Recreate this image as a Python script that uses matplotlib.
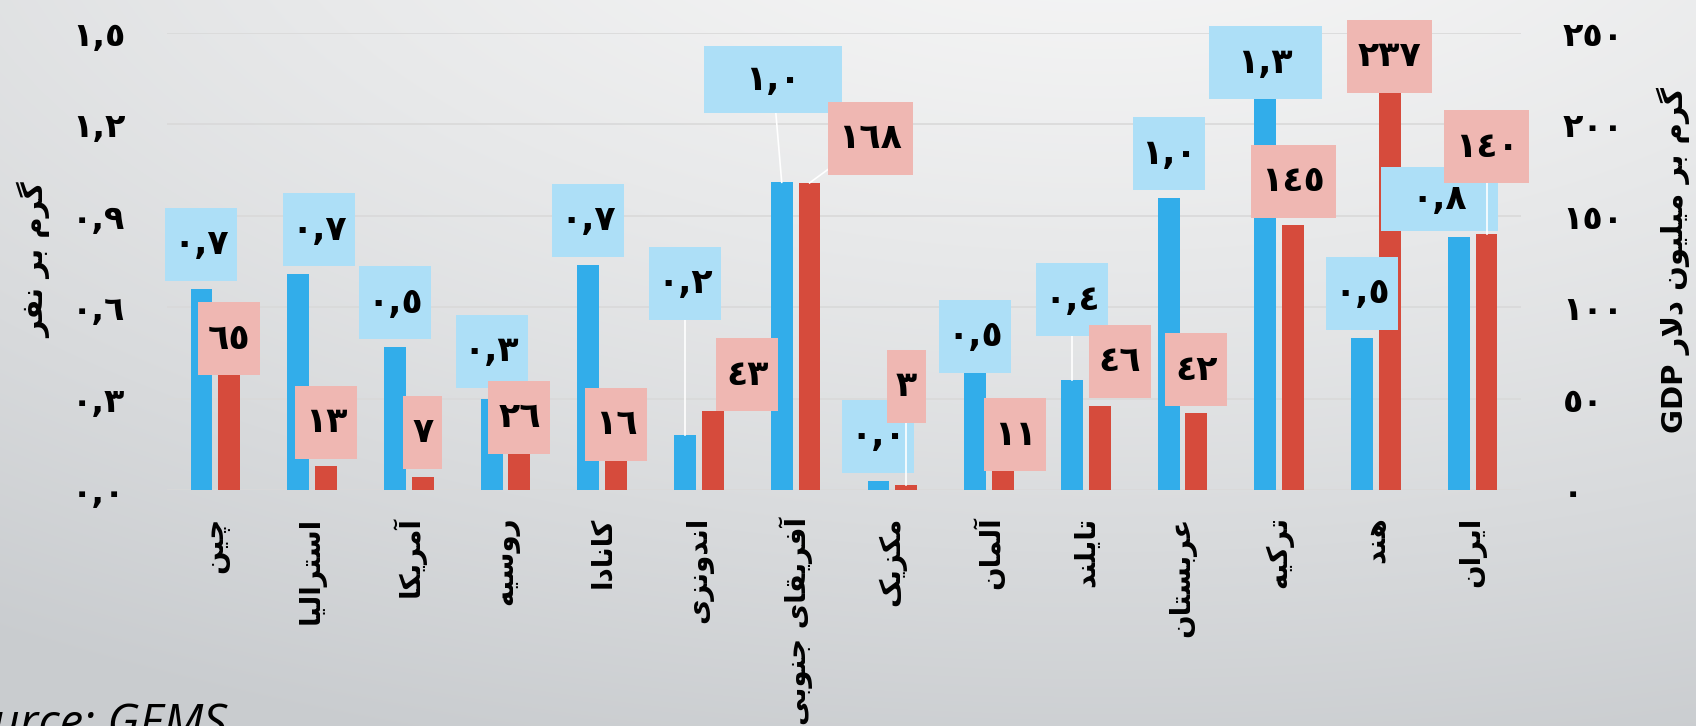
import numpy as np
import matplotlib
matplotlib.use("Agg")
import matplotlib.pyplot as plt
from matplotlib.patches import Rectangle

# data
countries = ["چین", "استرالیا", "آمریکا", "روسیه", "کانادا", "اندونزی", "آفریقای جنوبی",
             "مکزیک", "آلمان", "تایلند", "عربستان", "ترکیه", "هند", "ایران"]
per_capita = [0.66, 0.71, 0.47, 0.30, 0.74, 0.18, 1.01, 0.03, 0.47, 0.36, 0.96, 1.30, 0.50, 0.83]
per_gdp = [65, 13, 7, 26, 16, 43, 168, 3, 11, 46, 42, 145, 237, 140]
left_ticks = [0.0, 0.3, 0.6, 0.9, 1.2, 1.5]
right_ticks = [0, 50, 100, 150, 200, 250]

# label box placement (centre y in left-axis units, x shift in category units)
blue_lab_y = [0.806, 0.855, 0.615, 0.455, 0.885, 0.678, 1.347, 0.176, 0.504, 0.625, 1.104, 1.403, 0.645, 0.955]
blue_lab_dx = [0, 0.217, 0, 0, 0, 0, -0.09, 0, 0, 0, 0, 0, 0, -0.20]
blue_box_w = [72, 72, 72, 72, 72, 72, 138, 72, 72, 72, 72, 113, 72, 117]
blue_box_h = [73, 73, 73, 73, 73, 73, 67, 73, 73, 73, 73, 73, 73, 64]
blue_leader = [5, 6, 9]
red_lab_y = [0.497, 0.222, 0.189, 0.238, 0.215, 0.379, 1.154, 0.340, 0.182, 0.422, 0.395, 1.013, 1.423, 1.127]
red_lab_dx = [0, 0, 0, 0, 0, 0.357, 0.63, 0, 0.124, 0.207, 0, 0, 0, 0]
red_leader = [6, 7, 13]

BLUE = "#32adea"
RED = "#d64b3c"
BLUE_BOX = "#addff7"
RED_BOX = "#efb7b2"

# --- tiny arabic/persian shaper (matplotlib has no text shaping) ---
FORMS = {
    'ا': ('\uFE8D', '\uFE8E', None, None),
    'آ': ('\uFE81', '\uFE82', None, None),
    'ب': ('\uFE8F', '\uFE90', '\uFE91', '\uFE92'),
    'ت': ('\uFE95', '\uFE96', '\uFE97', '\uFE98'),
    'ج': ('\uFE9D', '\uFE9E', '\uFE9F', '\uFEA0'),
    'چ': ('\uFB7A', '\uFB7B', '\uFB7C', '\uFB7D'),
    'د': ('\uFEA9', '\uFEAA', None, None),
    'ر': ('\uFEAD', '\uFEAE', None, None),
    'ز': ('\uFEAF', '\uFEB0', None, None),
    'س': ('\uFEB1', '\uFEB2', '\uFEB3', '\uFEB4'),
    'ع': ('\uFEC9', '\uFECA', '\uFECB', '\uFECC'),
    'ف': ('\uFED1', '\uFED2', '\uFED3', '\uFED4'),
    'ق': ('\uFED5', '\uFED6', '\uFED7', '\uFED8'),
    'ک': ('\uFB8E', '\uFB8F', '\uFB90', '\uFB91'),
    'گ': ('\uFB92', '\uFB93', '\uFB94', '\uFB95'),
    'ل': ('\uFEDD', '\uFEDE', '\uFEDF', '\uFEE0'),
    'م': ('\uFEE1', '\uFEE2', '\uFEE3', '\uFEE4'),
    'ن': ('\uFEE5', '\uFEE6', '\uFEE7', '\uFEE8'),
    'و': ('\uFEED', '\uFEEE', None, None),
    'ه': ('\uFEE9', '\uFEEA', '\uFEEB', '\uFEEC'),
    'ی': ('\uFBFC', '\uFBFD', '\uFBFE', '\uFBFF'),
}
LAM_ALEF = {'ا': ('\uFEFB', '\uFEFC'), 'آ': ('\uFEF5', '\uFEF6')}


def joins_left(c):
    return c in FORMS and FORMS[c][2] is not None


def fa(text):
    ch = list(text)
    n = len(ch)
    res = []
    i = 0
    while i < n:
        c = ch[i]
        if c not in FORMS:
            res.append(c)
            i += 1
            continue
        jp = i > 0 and joins_left(ch[i - 1])
        if c == 'ل' and i + 1 < n and ch[i + 1] in LAM_ALEF:
            lig = LAM_ALEF[ch[i + 1]]
            res.append(lig[1] if jp else lig[0])
            i += 2
            continue
        jn = joins_left(c) and i + 1 < n and ch[i + 1] in FORMS
        iso, fin, ini, med = FORMS[c]
        if jp and jn:
            res.append(med)
        elif jp:
            res.append(fin)
        elif jn:
            res.append(ini)
        else:
            res.append(iso)
        i += 1
    return ''.join(reversed(res))


DIG = str.maketrans('0123456789', '٠١٢٣٤٥٦٧٨٩')


def num(s):
    return s.replace('.', ',').translate(DIG)


plt.rcParams['font.family'] = ['DejaVu Sans']
plt.rcParams['font.weight'] = 'bold'

W, H = 1696, 726
fig = plt.figure(figsize=(W / 100, H / 100), dpi=100)

# background gradient
bg = fig.add_axes([0, 0, 1, 1], zorder=-10)
yy, xx = np.mgrid[0:H, 0:W]
t = np.sqrt(((xx - 1100) / 2000.0) ** 2 + ((yy + 150) / 950.0) ** 2)
t = np.clip(t, 0, 1) ** 1.3
c0 = np.array([247, 247, 247]) / 255.0
c1 = np.array([201, 204, 207]) / 255.0
img = c0[None, None, :] * (1 - t[..., None]) + c1[None, None, :] * t[..., None]
bg.imshow(img, aspect='auto', extent=[0, 1, 0, 1])
bg.axis('off')

L, R, T, B = 167, 1521, 33, 490
ax = fig.add_axes([L / W, 1 - B / H, (R - L) / W, (B - T) / H])
ax2 = ax.twinx()
for a in (ax, ax2):
    a.set_facecolor('none')
    for s in a.spines.values():
        s.set_visible(False)

x = np.arange(len(countries))
bw = 0.226
off = 0.144
ax.bar(x - off, per_capita, bw, color=BLUE, zorder=2)
ax2.bar(x + off, per_gdp, bw, color=RED, zorder=2)

ax.set_xlim(-0.5, len(countries) - 0.5)
ax.set_ylim(0, 1.5)
ax2.set_ylim(0, 250)
ax.set_yticks(left_ticks)
ax.set_yticklabels([num(f"{v:.1f}") for v in left_ticks], fontsize=24, fontweight='bold')
ax2.set_yticks(right_ticks)
ax2.set_yticklabels([num(str(v)) for v in right_ticks], fontsize=24, fontweight='bold')
ax.tick_params(axis='y', length=0, pad=30)
ax2.tick_params(axis='y', length=0, pad=30)
ax.set_xticks(x)
ax.set_xticklabels([fa(c) for c in countries], rotation=90, fontsize=20, fontweight='bold',
                   va='top', ha='center')
ax.tick_params(axis='x', length=0, pad=19)
ax.yaxis.grid(True, color='#d9d9d9', lw=1.2, zorder=0)
ax.set_axisbelow(True)

px_x = (R - L) / len(countries)   # pixels per category
px_y = (B - T) / 1.5              # pixels per left unit
k = 1.5 / 250.0

for i in range(len(countries)):
    # blue label
    bx = x[i] - off + blue_lab_dx[i]
    by = blue_lab_y[i]
    w = blue_box_w[i] / px_x
    h = blue_box_h[i] / px_y
    if i in blue_leader:
        ax2.plot([bx, x[i] - off], [by, per_capita[i]], color='white', lw=1.2,
                 transform=ax.transData, zorder=2.5, clip_on=False)
    ax2.add_patch(Rectangle((bx - w / 2, by - h / 2), w, h, facecolor=BLUE_BOX, edgecolor='none',
                            transform=ax.transData, zorder=3, clip_on=False))
    ax2.text(bx, by, num(f"{per_capita[i]:.1f}"), ha='center', va='center', fontsize=25,
             fontweight='bold', transform=ax.transData, zorder=3.5, clip_on=False)
    # red label
    lab = num(str(per_gdp[i]))
    rx = x[i] + off + red_lab_dx[i]
    ry = red_lab_y[i]
    w = (16 + 23 * len(lab)) / px_x
    h = 73 / px_y
    if i in red_leader:
        ax2.plot([rx, x[i] + off], [ry, per_gdp[i] * k], color='white', lw=1.2,
                 transform=ax.transData, zorder=3.7, clip_on=False)
    ax2.add_patch(Rectangle((rx - w / 2, ry - h / 2), w, h, facecolor=RED_BOX, edgecolor='none',
                            transform=ax.transData, zorder=4, clip_on=False))
    ax2.text(rx, ry, lab, ha='center', va='center', fontsize=25,
             fontweight='bold', transform=ax.transData, zorder=4.5, clip_on=False)

ax2.set_ylim(0, 250)

fig.text(34 / W, 1 - 260 / H, fa("گرم بر نفر"), rotation=90, ha='center', va='center',
         fontsize=21, fontweight='bold')
fig.text(1673 / W, 1 - 260 / H, "GDP " + fa("گرم بر میلیون دلار"), rotation=90, ha='center',
         va='center', fontsize=21, fontweight='bold')
fig.text(227 / W, -12 / H, "Source: GEMS", ha='right', va='baseline', fontsize=34,
         style='italic', fontweight='normal', family=['Open Sans', 'DejaVu Sans'])

fig.savefig("out.png", dpi=100)
